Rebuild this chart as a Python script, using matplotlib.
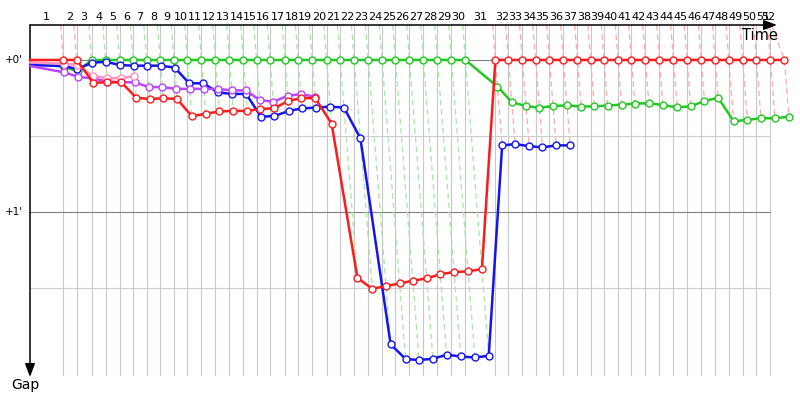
import numpy as np
import matplotlib
matplotlib.use('Agg')
import matplotlib.pyplot as plt
from matplotlib.transforms import blended_transform_factory as btf

# ---------------- data ----------------
laps = list(range(0, 53))
# leader's cumulative race time (s) at the end of each lap
leader_time = [0, 167, 233, 308, 378, 448, 516, 583, 651, 720,
               787, 857, 927, 997, 1067, 1133, 1200, 1275, 1341, 1411,
               1483, 1551, 1621, 1691, 1760, 1827, 1897, 1967, 2037, 2107,
               2177, 2327, 2392, 2462, 2528, 2597, 2667, 2737, 2803, 2870,
               2940, 3007, 3077, 3147, 3217, 3285, 3356, 3426, 3494, 3563,
               3632, 3702, 3772]

N = None
red_gap = [0, 0, 0, 9.0, 8.8, 8.8, 14.9, 15.4, 15.1, 15.4,
           22.2, 21.2, 20.3, 20.1, 20.1, 19.3, 19.1, 16.2, 15.0, 15.1,
           25.1, 86.0, 90.3, 89.2, 88.2, 87.1, 86.2, 84.5, 83.7, 83.4,
           82.5] + [0] * 22
green_gap = [1.5, 2.6, 4.5] + [0] * 28 + [
    10.5, 16.6, 18.2, 18.8, 18.2, 17.9, 18.4, 18.3, 18.0, 17.6,
    17.2, 17.1, 17.8, 18.7, 18.3, 16.2, 14.9, 24.2, 23.6, 23.0,
    23.0, 22.4]
blue_gap = [2.0, 2.4, 3.6, 1.1, 0.7, 2.0, 2.25, 2.25, 2.25, 3.0,
            9.2, 9.2, 12.8, 13.4, 13.4, 22.4, 22.1, 20.1, 19.1, 18.8,
            18.4, 18.8, 30.9, 112.2, 118.0, 118.4, 117.9, 116.3, 117.0, 117.4,
            116.7, 33.7, 33.2, 34.0, 34.5, 33.7, 33.7] + [N] * 16
purple_gap = [2.4, 4.9, 6.6, 7.3, 8.5, 8.8, 8.8, 10.7, 10.7, 11.4,
              11.4, 11.4, 11.4, 12.0, 12.0, 15.8, 16.5, 14.1, 13.5, 14.5] + [N] * 33
pink_gap = [1.0, 1.5, 2.0, 6.3, 7.2, 7.1, 6.4] + [N] * 46

series = [
    ("green", green_gap, "#22c922", "#a6e6a6"),
    ("blue", blue_gap, "#1414ee", "#b0b0ff"),
    ("purple", purple_gap, "#bb44ff", "#e0b0ff"),
    ("pink", pink_gap, "#ff92c4", "#ffd0e4"),
    ("red", red_gap, "#ff1a1a", "#ffaaaa"),
]

gap_grid_major = [0, 60]
gap_grid_minor = [30, 90]
gap_labels = ["+0'", "+1'"]

# ---------------- figure ----------------
W, H = 800, 400
fig = plt.figure(figsize=(8, 4), dpi=100)
ax = fig.add_axes([30 / W, 24 / H, 740.7 / W, 351 / H])
T = np.array(leader_time, dtype=float)
xmax = 3703.5
ytop, ybot = -13.8, 124.7
ax.set_xlim(0, xmax)
ax.set_ylim(ybot, ytop)
for s in ax.spines.values():
    s.set_visible(False)
ax.set_xticks([])
ax.set_yticks([])

# vertical lap grid lines
for t in T[1:]:
    if t <= xmax + 1:
        ax.axvline(t, color="#c8c8c8", lw=0.8, zorder=0)
# horizontal gap grid lines
for g in gap_grid_minor:
    ax.axhline(g, color="#cccccc", lw=0.8, zorder=0.5)
for g in gap_grid_major:
    ax.axhline(g, color="#808080", lw=0.8, zorder=0.5)

gaps = np.array([[np.nan if v is None else v for v in s[1]] for s in series], dtype=float)

# lap lines (dashed) coloured by leader
for n in range(1, len(laps)):
    col = gaps[:, n]
    valid = np.where(~np.isnan(col))[0]
    gmin = col[valid].min()
    lead_idx = max(i for i in valid if col[i] == gmin)
    gmax = np.nanmax(col)
    x0 = min(T[n] + ytop, xmax + 5)
    ax.plot([x0, T[n] + gmin, T[n] + gmax], [ytop, gmin, gmax],
            color=series[lead_idx][3], lw=0.9, dashes=(4.5, 3.0), zorder=1,
            clip_on=False)

# driver lines
for k, (name, g, c, lc) in enumerate(series):
    gv = gaps[k]
    x = T + gv
    ax.plot(x, gv, color=c, lw=1.8, marker="o", ms=5, mfc="white", mec=c,
            mew=1.0, markevery=list(range(1, len(laps))), zorder=3 + k,
            clip_on=False)

# lap labels on top
tr_top = btf(ax.transData, fig.transFigure)
for n in range(1, len(laps)):
    mid = (T[n - 1] + T[n]) / 2
    mid = min(mid, xmax - 12)
    ax.text(mid, 1 - 17 / H, str(laps[n]), transform=tr_top, ha="center",
            va="center", fontsize=8, color="black", clip_on=False)

# gap labels
tr_left = btf(fig.transFigure, ax.transData)
for g, lab in zip(gap_grid_major, gap_labels):
    ax.text(23 / W, g, lab, transform=tr_left, ha="right", va="center",
            fontsize=7.5, color="black")

# axis arrows
arrow = dict(arrowstyle="-|>,head_length=0.8,head_width=0.3", color="black",
             lw=1.1, mutation_scale=10, shrinkA=0, shrinkB=0)
ax.annotate("", xy=(777, H - 25), xytext=(30, H - 25), xycoords="figure pixels",
            textcoords="figure pixels", arrowprops=arrow, annotation_clip=False)
ax.annotate("", xy=(30, H - 377), xytext=(30, H - 25), xycoords="figure pixels",
            textcoords="figure pixels", arrowprops=arrow, annotation_clip=False)
fig.text(742 / W, 1 - 36 / H, "Time", ha="left", va="center", fontsize=10.5)
fig.text(25 / W, 1 - 385.5 / H, "Gap", ha="center", va="center", fontsize=10)

fig.savefig("out.png", dpi=100)
